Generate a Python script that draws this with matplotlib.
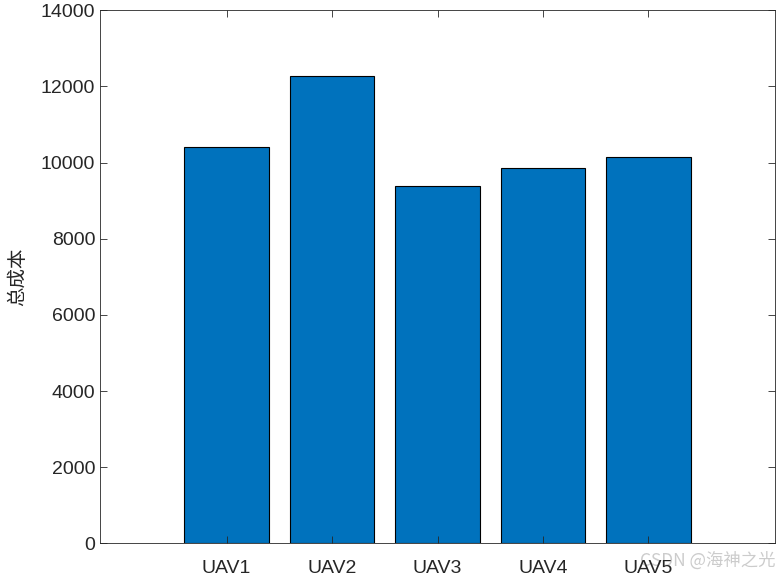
import numpy as np
import matplotlib
matplotlib.use('Agg')
import matplotlib.pyplot as plt

plt.rcParams['font.family'] = ['Liberation Sans', 'Noto Sans CJK SC', 'DejaVu Sans']

labels = ['UAV1', 'UAV2', 'UAV3', 'UAV4', 'UAV5']
cost = [10410, 12265, 9375, 9850, 10140]

fig = plt.figure(figsize=(7.79, 5.77), dpi=100)
ax = fig.add_axes([0.1284, 0.0584, 0.8665, 0.9237])

x = np.arange(1, len(labels) + 1)
ax.bar(x, cost, width=0.8, color='#0072BD', edgecolor='black', linewidth=0.8)

ax.set_xlim(-0.2, 6.2)
ax.set_ylim(0, 14000)
ax.set_yticks(np.arange(0, 14001, 2000))
ax.set_xticks(x)
ax.set_xticklabels(labels)
ax.tick_params(direction='in', top=True, right=True, labelsize=14,
               colors='#262626', length=5, width=0.6)
ax.tick_params(axis='x', pad=12)
for s in ax.spines.values():
    s.set_linewidth(0.6)
    s.set_color('#262626')

ax.set_ylabel('总成本', fontsize=14, family=['Noto Sans CJK SC', 'DejaVu Sans'],
              color='#262626', labelpad=9)

# watermark (sits under the UAV5 label, like the original)
fig.text(0.996, 0.012, 'CSDN @海神之光', ha='right', va='bottom', fontsize=12.5,
         color='#cccccc', family=['Noto Sans CJK SC', 'DejaVu Sans'], zorder=-1)

fig.savefig('out.png', dpi=100)
